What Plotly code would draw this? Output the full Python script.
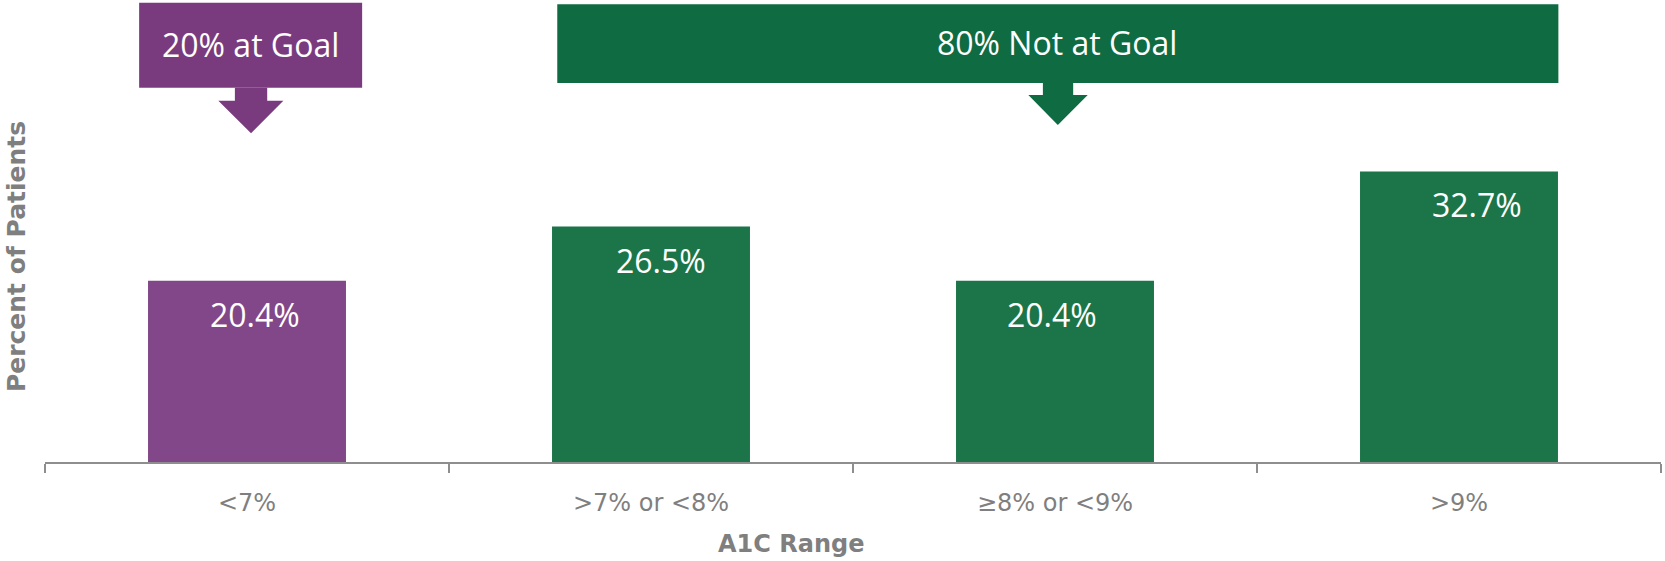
import plotly.graph_objects as go

# A1C distribution across patients
categories = ["<7%", ">7% or <8%", "≥8% or <9%", ">9%"]
percent_patients = [20.4, 26.5, 20.4, 32.7]
bar_colors = ["#824788", "#1b7548", "#1b7548", "#1b7548"]
label_dx = [0.02, 0.025, -0.008, 0.045]

goal_text = "20% at Goal"
not_goal_text = "80% Not at Goal"

PURPLE_BOX = "#7a3b7e"
GREEN_BOX = "#0f6b41"
GRAY = "#7f7f7f"
FONT = "Open Sans"
AXIS_FONT = "DejaVu Sans"

fig = go.Figure(
    go.Bar(
        x=categories,
        y=percent_patients,
        marker=dict(color=bar_colors, line=dict(width=0)),
        width=0.49,
        hoverinfo="skip",
    )
)

# value labels inside the top of each bar
annotations = []
for i, v in enumerate(percent_patients):
    annotations.append(dict(
        x=i + label_dx[i], y=v, xref="x", yref="y",
        text=f"{v:.1f}%", showarrow=False,
        xanchor="center", yanchor="top", yshift=-10,
        font=dict(family=FONT, size=32, color="white"),
    ))


def callout(x0, x1, y0, y1, sx0, sx1, sy, hx0, hx1, tipx, tipy, color):
    """Box with a down-pointing arrow underneath (axis units)."""
    box = dict(type="rect", xref="x", yref="y", x0=x0, x1=x1, y0=y0, y1=y1,
               fillcolor=color, line=dict(width=0), layer="above")
    path = (f"M {sx0} {y0} L {sx1} {y0} L {sx1} {sy} L {hx1} {sy} "
            f"L {tipx} {tipy} L {hx0} {sy} L {sx0} {sy} Z")
    arrow = dict(type="path", xref="x", yref="y", path=path,
                 fillcolor=color, line=dict(width=0), layer="above")
    return [box, arrow]


shapes = []
shapes += callout(-0.267, 0.285, 42.13, 51.69,
                  -0.030, 0.050, 40.66, -0.071, 0.090, 0.010, 37.0, PURPLE_BOX)
shapes += callout(0.768, 3.246, 42.66, 51.51,
                  1.970, 2.045, 41.31, 1.934, 2.081, 2.007, 37.93, GREEN_BOX)

annotations.append(dict(
    x=0.009, y=47.0, xref="x", yref="y", text=goal_text, showarrow=False,
    xanchor="center", yanchor="middle",
    font=dict(family=FONT, size=32, color="white"),
))
annotations.append(dict(
    x=2.005, y=47.2, xref="x", yref="y", text=not_goal_text, showarrow=False,
    xanchor="center", yanchor="middle",
    font=dict(family=FONT, size=32, color="white"),
))

# axis titles
annotations.append(dict(
    x=0.4616, y=-0.178, xref="paper", yref="paper", text="<b>A1C Range</b>",
    showarrow=False, xanchor="center", yanchor="middle",
    font=dict(family=AXIS_FONT, size=24, color=GRAY),
))
annotations.append(dict(
    x=-0.0172, y=0.444, xref="paper", yref="paper",
    text="<b>Percent of Patients</b>", textangle=-90,
    showarrow=False, xanchor="center", yanchor="middle",
    font=dict(family=AXIS_FONT, size=25, color=GRAY),
))

fig.update_layout(
    width=1665, height=561,
    margin=dict(l=45, r=4, t=0, b=99),
    paper_bgcolor="white", plot_bgcolor="white",
    showlegend=False,
    bargap=0.51,
    shapes=shapes,
    annotations=annotations,
    xaxis=dict(
        type="category",
        range=[-0.5, 3.5],
        showline=True, linecolor="#8e8e8e", linewidth=2,
        ticks="outside", tickson="boundaries", ticklen=9, tickwidth=1.5,
        tickcolor="#8e8e8e",
        tickfont=dict(family=AXIS_FONT, size=24, color=GRAY),
        ticklabelstandoff=18,
        showgrid=False, zeroline=False,
        fixedrange=True,
    ),
    yaxis=dict(
        range=[0, 52], visible=False, showgrid=False, zeroline=False,
        fixedrange=True,
    ),
)

fig.write_html("out.html")
